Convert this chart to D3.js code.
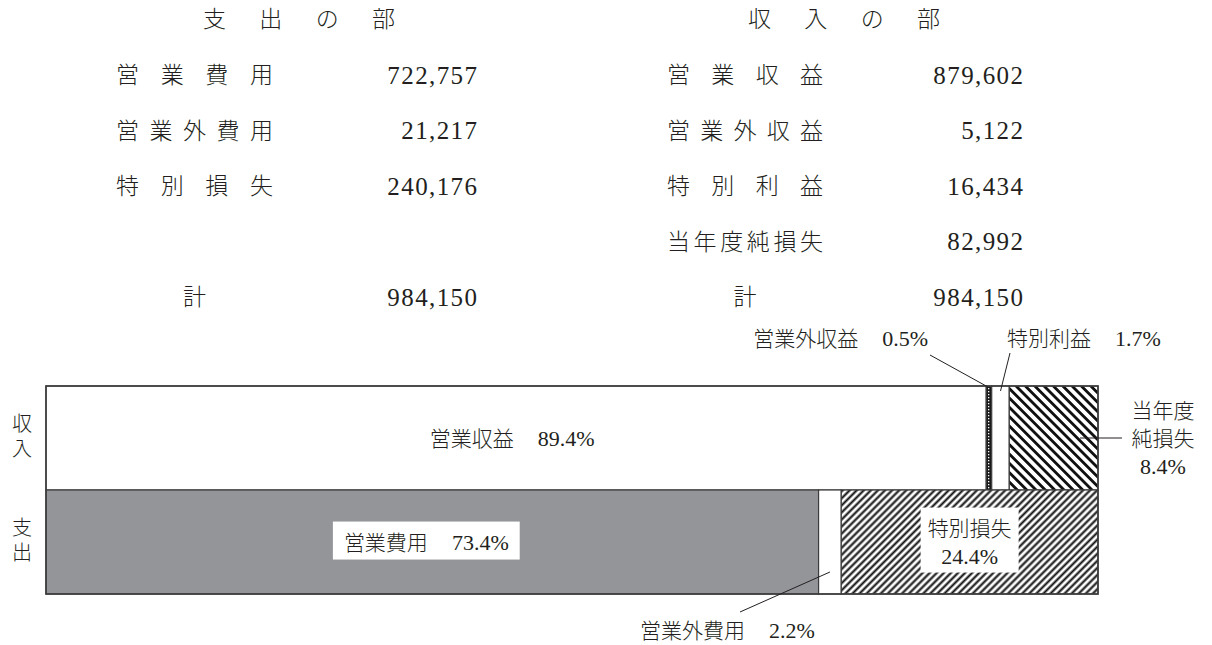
<!DOCTYPE html>
<html>
<head>
<meta charset="utf-8">
<style>
  body { margin: 0; background: #fff; }
  svg {
    display: block;
    font-family: "Liberation Serif", "Noto Sans CJK JP", serif;
  }
  text { fill: #231f20; }
  .jp { font-family: "Noto Sans CJK JP", sans-serif; font-weight: 300; }
</style>
</head>
<body>
<svg width="1212" height="645"></svg>

<script src="https://d3js.org/d3.v7.min.js"></script>
<script>
// table values (千円)
const expenseTitle = "支出の部";
const revenueTitle = "収入の部";
const expenseItems = ["営業費用", "営業外費用", "特別損失"];
const expenseValues = [722757, 21217, 240176];
const revenueItems = ["営業収益", "営業外収益", "特別利益", "当年度純損失"];
const revenueValues = [879602, 5122, 16434, 82992];
const totalLabel = "計";
const totalValue = 984150;
const barRows = ["収入", "支出"];

let svg = d3.select("svg");
let fmt = d3.format(",");
let pct = v => d3.format(".1f")(v / totalValue * 100) + "%";

// ---- table at the top ----
function table(title, items, values, o) {
    let g = svg.append("g");
    g.append("text").attr("class", "jp")
        .attr("x", o.titleX).attr("y", 19).attr("dy", "0.36em")
        .attr("textLength", 192).attr("lengthAdjust", "spacing")
        .style("font-size", "23px")
        .text(title);

    let rowY = d3.scaleLinear().domain([0, 4]).range([75, 297]);

    g.selectAll(".lab")
        .data(items)
        .join("text")
        .attr("class", "jp lab")
        .attr("x", o.labelX)
        .attr("y", (d, i) => rowY(i))
        .attr("dy", "0.36em")
        .attr("textLength", o.labelW).attr("lengthAdjust", "spacing")
        .style("font-size", "23px")
        .text(d => d);

    g.selectAll(".val")
        .data(values)
        .join("text")
        .attr("class", "val")
        .attr("x", o.valueX + 1.4)
        .attr("y", (d, i) => rowY(i))
        .attr("dy", "0.34em")
        .attr("text-anchor", "end")
        .style("font-size", "25px")
        .style("letter-spacing", "1.4px")
        .text(d => fmt(d));

    g.append("text").attr("class", "jp")
        .attr("x", o.labelX + o.labelW / 2).attr("y", rowY(4)).attr("dy", "0.36em")
        .attr("text-anchor", "middle")
        .style("font-size", "23px")
        .text(totalLabel);
    g.append("text")
        .attr("x", o.valueX + 1.4).attr("y", rowY(4)).attr("dy", "0.34em")
        .attr("text-anchor", "end")
        .style("font-size", "25px")
        .style("letter-spacing", "1.4px")
        .text(fmt(totalValue));
}

table(expenseTitle, expenseItems, expenseValues, { titleX: 203, labelX: 116, labelW: 157, valueX: 477 });
table(revenueTitle, revenueItems, revenueValues, { titleX: 748, labelX: 667, labelW: 156, valueX: 1023 });

// ---- patterns ----
let defs = svg.append("defs");
function hatch(id, size, lw, angle) {
    let p = defs.append("pattern")
        .attr("id", id)
        .attr("patternUnits", "userSpaceOnUse")
        .attr("width", size).attr("height", size)
        .attr("patternTransform", "rotate(" + angle + ")");
    p.append("rect").attr("width", size).attr("height", size).attr("fill", "#fff");
    p.append("line")
        .attr("x1", size / 2).attr("x2", size / 2)
        .attr("y1", 0).attr("y2", size)
        .attr("stroke", "#111").attr("stroke-width", lw);
}
hatch("hatchLoss", 6.6, 2.8, -45);
hatch("hatchSpecial", 5, 2.1, 45);

let dots = defs.append("pattern")
    .attr("id", "dots")
    .attr("patternUnits", "userSpaceOnUse")
    .attr("width", 3).attr("height", 3);
dots.append("rect").attr("width", 3).attr("height", 3).attr("fill", "#1a1a1a");
dots.append("rect").attr("x", 1).attr("y", 1).attr("width", 1.3).attr("height", 1.3).attr("fill", "#fff");

// ---- stacked bars ----
let x = d3.scaleLinear().domain([0, totalValue]).range([46, 1098]);
let y = d3.scaleBand().domain(barRows).range([386, 594]);

function stack(items, values, fills) {
    let acc = 0;
    return items.map((d, i) => {
        let s = { name: d, v: values[i], x0: acc, x1: acc + values[i], fill: fills[i] };
        acc += values[i];
        return s;
    });
}
let revSegs = stack(revenueItems, revenueValues, ["#fff", "url(#dots)", "#fff", "url(#hatchLoss)"]);
let expSegs = stack(expenseItems, expenseValues, ["#939598", "#fff", "url(#hatchSpecial)"]);

let bars = svg.append("g");
[[barRows[0], revSegs], [barRows[1], expSegs]].forEach(([row, segs]) => {
    bars.append("g").selectAll("rect")
        .data(segs)
        .join("rect")
        .attr("x", d => x(d.x0))
        .attr("width", d => x(d.x1) - x(d.x0))
        .attr("y", y(row))
        .attr("height", y.bandwidth())
        .attr("fill", d => d.fill)
        .attr("stroke", "#3c3c3c")
        .attr("stroke-width", 1.2);
});

// outer frame
bars.append("rect")
    .attr("x", x(0)).attr("y", y(barRows[0]))
    .attr("width", x(totalValue) - x(0)).attr("height", y.bandwidth() * 2)
    .attr("fill", "none").attr("stroke", "#3c3c3c").attr("stroke-width", 1.6);

// row labels (vertical writing)
svg.append("g").selectAll("text")
    .data(barRows)
    .join("text")
    .attr("class", "jp")
    .attr("x", 22)
    .attr("y", d => y(d) + y.bandwidth() / 2)
    .attr("text-anchor", "middle")
    .style("writing-mode", "vertical-rl")
    .style("font-size", "20px")
    .style("letter-spacing", "5px")
    .text(d => d);

// ---- labels ----
let fs = "21px";
function midX(s) { return (x(s.x0) + x(s.x1)) / 2; }
function addText(g, jpPart, numPart, px, py, anchor) {
    let el = g.append("text").attr("x", px).attr("y", py).attr("dy", "0.36em")
        .attr("text-anchor", anchor).style("font-size", fs);
    if (jpPart) el.append("tspan").attr("class", "jp").text(jpPart);
    if (numPart) el.append("tspan").attr("dx", jpPart ? 24 : 0).style("font-size", "22px").text(numPart);
    return el;
}
function boxed(g, lines, px, py, padX, padY) {
    let lg = g.append("g");
    lines.forEach((t, i) => addText(lg, t[0], t[1], px, py + (i - (lines.length - 1) / 2) * 28, "middle"));
    let bb = lg.node().getBBox();
    lg.insert("rect", "text")
        .attr("x", bb.x - padX).attr("y", bb.y - padY)
        .attr("width", bb.width + padX * 2).attr("height", bb.height + padY * 2)
        .attr("fill", "#fff");
}

let labels = svg.append("g");
let revMid = y(barRows[0]) + y.bandwidth() / 2;
let expMid = y(barRows[1]) + y.bandwidth() / 2;
let barTop = y(barRows[0]);

addText(labels, revSegs[0].name, pct(revSegs[0].v), midX(revSegs[0]) - 4, revMid, "middle");
boxed(labels, [[expSegs[0].name, pct(expSegs[0].v)]], midX(expSegs[0]) - 6, expMid, 11, 4);
boxed(labels, [[expSegs[2].name, null], [null, pct(expSegs[2].v)]], midX(expSegs[2]), expMid, 7, 4);

// callouts
let leader = (x1, y1, x2, y2) => svg.append("line")
    .attr("x1", x1).attr("y1", y1).attr("x2", x2).attr("y2", y2)
    .attr("stroke", "#231f20").attr("stroke-width", 1);

addText(labels, revSegs[1].name, pct(revSegs[1].v), 928, 338, "end");
leader(930, 355, midX(revSegs[1]) - 1, barTop + 1);

addText(labels, revSegs[2].name, pct(revSegs[2].v), 1007, 338, "start");
leader(1010, 353, midX(revSegs[2]), barTop + 5);

addText(labels, "当年度", null, 1163, 410, "middle");
addText(labels, "純損失", null, 1163, 438, "middle");
addText(labels, null, pct(revSegs[3].v), 1163, 466, "middle");
leader(1122, revMid, 1080, revMid);

addText(labels, expSegs[1].name, pct(expSegs[1].v), 640, 630, "start");
leader(740, 612, midX(expSegs[1]), y(barRows[1]) + y.bandwidth() - 22);
</script>
</body>
</html>
